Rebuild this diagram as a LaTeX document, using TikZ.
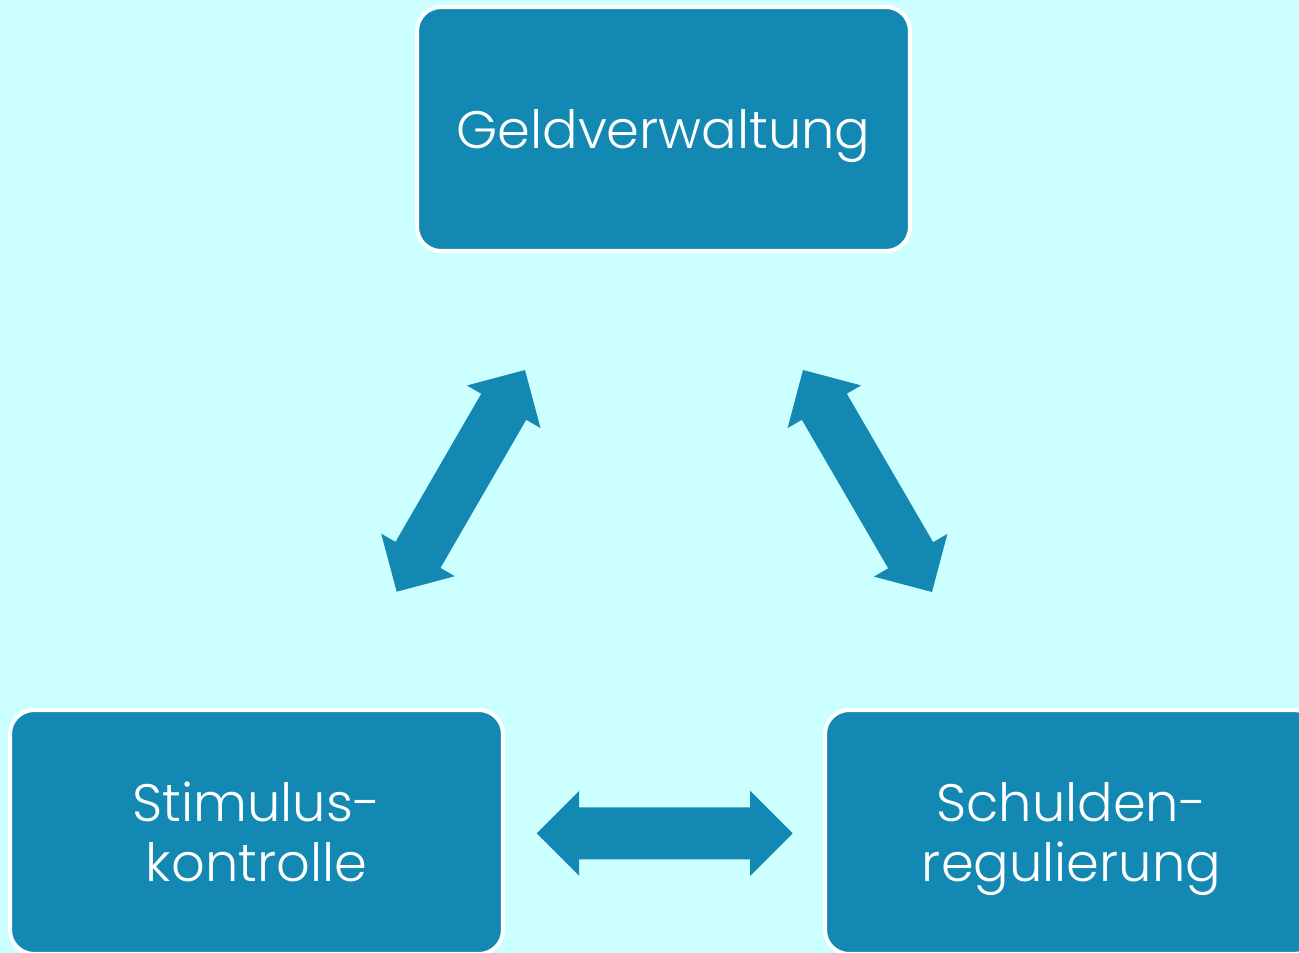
\documentclass[tikz,border=0pt]{standalone}
\usepackage{fontspec}
\IfFontExistsTF{Poppins Light}{\newfontfamily\boxfont{Poppins Light}}{\newfontfamily\boxfont{Poppins}}
\usetikzlibrary{calc}

\definecolor{bgcyan}{HTML}{CCFFFF}
\definecolor{boxteal}{HTML}{1288B2}

\tikzset{
	areabox/.style={draw=white, line width=0.08cm, fill=boxteal, rounded corners=0.48cm,
		minimum width=9.86cm, minimum height=4.88cm, align=center, text=white, text depth=0pt,
		font=\boxfont\fontsize{30}{34}\selectfont},
	blockarrow/.style={fill=boxteal}
}

\begin{document}
\begin{tikzpicture}[x=0.02cm,y=-0.02cm]
	
	% ---- (A) parameters ----
	\def\headlen{0.85cm}   % length of an arrow head
	\def\headhalf{0.85cm}  % half width of an arrow head
	\def\shafthalf{0.52cm} % half width of the shaft
	
	% ---- (B) background ----
	\fill[bgcyan] (0,0) rectangle (1299,953);
	\useasboundingbox (0,0) rectangle (1299,953);
	
	% ---- (C) the three boxes (cut at the border) ----
	\begin{scope}
		\clip (0,0) rectangle (1299,953);
		\node[areabox] (geld) at (663.5,129) {Geldverwaltung};
		\node[areabox] (stim) at (256.5,832) {Stimulus-\\kontrolle};
		\node[areabox] (schuld) at (1071.5,832) {Schulden-\\regulierung};
	\end{scope}
	
	% ---- (D) end points of the double arrows ----
	\coordinate (gs1) at (525,370);
	\coordinate (gs2) at (396.7,591.7);
	\coordinate (gr1) at (803,370);
	\coordinate (gr2) at (932,592);
	\coordinate (sr1) at (536.7,833.3);
	\coordinate (sr2) at (792.7,833.3);
	
	% ---- (E) block double arrows ----
	\foreach \a/\b in {gs1/gs2, gr1/gr2, sr1/sr2}{
		% base points of the two heads
		\coordinate (ha) at ($(\a)!\headlen!(\b)$);
		\coordinate (hb) at ($(\b)!\headlen!(\a)$);
		\fill[blockarrow] (\a)
		-- ($(ha)!\headhalf!90:(\b)$) -- ($(ha)!\shafthalf!90:(\b)$)
		-- ($(hb)!\shafthalf!-90:(\a)$) -- ($(hb)!\headhalf!-90:(\a)$)
		-- (\b)
		-- ($(hb)!\headhalf!90:(\a)$) -- ($(hb)!\shafthalf!90:(\a)$)
		-- ($(ha)!\shafthalf!-90:(\b)$) -- ($(ha)!\headhalf!-90:(\b)$)
		-- cycle;
	}
	
\end{tikzpicture}
\end{document}
